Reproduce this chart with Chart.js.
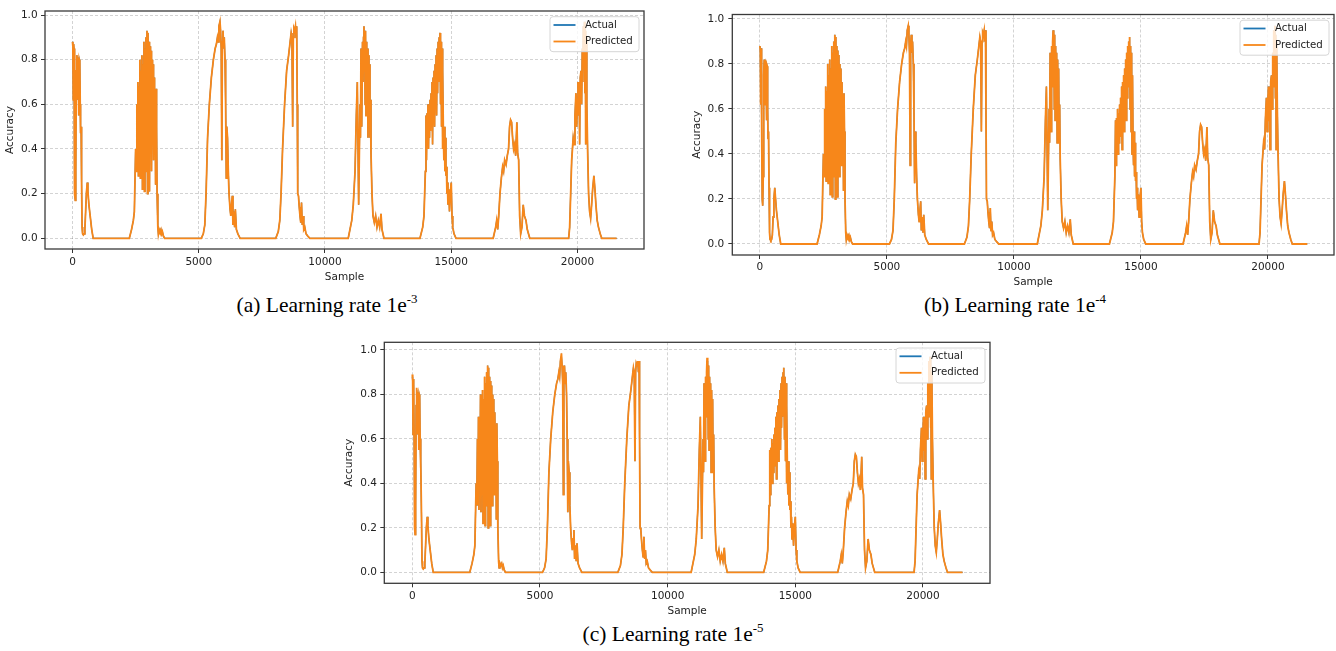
<!DOCTYPE html>
<html><head><meta charset="utf-8">
<script src="https://cdn.jsdelivr.net/npm/chart.js@4.4.0/dist/chart.umd.min.js"></script>
<style>
html,body{margin:0;padding:0;background:#fff;}
body{width:1336px;height:651px;position:relative;overflow:hidden;}
.panel{position:absolute;}
.panel canvas{display:block;}
.cap{position:absolute;font-family:"Liberation Serif","Times New Roman",serif;font-size:21.5px;color:#000;white-space:nowrap;transform:translate(-50%,-50%);line-height:1;}
.cap sup{font-size:0.6em;vertical-align:0.7em;line-height:0;}
</style></head><body>
<div class="panel" style="left:0;top:0;width:660px;height:290px"><canvas id="cA" width="660" height="290"></canvas></div>
<div class="panel" style="left:680px;top:0;width:656px;height:290px"><canvas id="cB" width="656" height="290"></canvas></div>
<div class="panel" style="left:330px;top:330px;width:680px;height:290px"><canvas id="cC" width="680" height="290"></canvas></div>
<div class="cap" style="left:327px;top:306px">(a) Learning rate 1e<sup>-3</sup></div>
<div class="cap" style="left:1015px;top:306px">(b) Learning rate 1e<sup>-4</sup></div>
<div class="cap" style="left:673px;top:635px">(c) Learning rate 1e<sup>-5</sup></div>
<script>
const seriesLabels = ['Actual', 'Predicted'];
const xLabel = 'Sample';
const yLabel = 'Accuracy';
const xTicks = [0, 5000, 10000, 15000, 20000];
const yTicks = [0, 0.2, 0.4, 0.6, 0.8, 1.0];

const samples = [
  0,15,30,45,60,75,90,110,130,150,170,190,205,220,240,255,270,290,305,320,340,360,380,400,430,460,490,520,550,585,610,650,700,760,820,
  2250,2340,2410,2450,2500,2525,2550,2570,2590,2610,2630,2650,2670,2690,2710,2730,2750,2770,2790,2810,2830,2850,2870,2890,2910,2930,2950,2970,2990,3010,3030,3050,3070,3090,3110,3130,3150,3170,3190,3210,3230,3250,3270,3290,3310,3330,3350,3380,3400,3430,3460,3500,3530,3560,3600,3650,
  5100,5180,5240,5290,5350,5420,5500,5580,5650,5700,5740,5770,5800,5840,5865,5890,5915,5935,5960,5985,6010,6040,6065,6090,6110,6140,6170,6200,6240,6270,6300,6330,6355,6390,6420,6450,6490,6550,6640,
  8050,8150,8210,8260,8320,8400,8480,8560,8620,8660,8690,8720,8745,8770,8800,8830,8855,8880,8900,8920,8950,8980,9010,9040,9070,9100,9130,9160,9200,9250,9320,9400,
  10920,10990,11060,11120,11190,11240,11280,11333,11386,11405,11426,11445,11465,11485,11505,11525,11544,11560,11575,11590,11605,11624,11643,11663,11683,11703,11722,11742,11762,11782,11802,11822,11861,11901,11954,12006,12059,12112,12165,12218,12257,12336,
  13760,13870,13920,13975,14000,14020,14040,14060,14080,14100,14120,14140,14160,14180,14200,14220,14240,14260,14280,14300,14320,14340,14360,14380,14400,14420,14440,14460,14480,14500,14520,14540,14555,14575,14595,14615,14635,14650,14670,14690,14710,14730,14750,14770,14790,14810,14830,14850,14870,14900,14930,14960,15000,15030,15060,15110,15190,
  16660,16760,16800,16840,16880,16930,16985,17035,17075,17115,17170,17220,17270,17310,17350,17390,17430,17470,17510,17550,17600,17630,17670,17710,17750,17800,17850,17900,17960,18010,18110,
  19650,19690,19770,19830,19870,19900,19940,19970,19995,20020,20045,20065,20085,20110,20140,20165,20190,20210,20230,20250,20275,20295,20310,20325,20345,20370,20400,20440,20480,20520,20560,20600,20650,20690,20730,20780,20830,20900,20960,21550
];

const actual = [
  .88,.86,.62,.87,.85,.55,.2,.17,.3,.75,.82,.8,.62,.81,.78,.55,.8,.79,.6,.47,.5,.25,.05,.02,.015,.02,.04,.12,.2,.25,.21,.15,.1,.04,0,
  0,.04,.08,.12,.4,.3,.6,.3,.7,.28,.68,.45,.8,.27,.75,.5,.82,.22,.78,.4,.88,.21,.85,.55,.9,.3,.93,.2,.92,.6,.88,.21,.86,.5,.84,.3,.8,.6,.78,.35,.72,.55,.66,.24,.67,.5,.2,.05,.02,.04,.03,.04,.02,.03,.01,0,
  0,.02,.06,.2,.45,.6,.72,.8,.85,.87,.9,.88,.95,.97,.93,.85,.35,.88,.93,.85,.9,.8,.6,.27,.5,.45,.3,.2,.13,.1,.15,.19,.06,.12,.05,.13,.04,.02,0,
  0,.03,.08,.2,.4,.6,.75,.82,.88,.92,.9,.5,.9,.94,.93,.95,.9,.95,.6,.2,.19,.14,.1,.07,.16,.06,.1,.04,.05,.02,.01,0,
  0,.04,.08,.15,.3,.55,.7,.15,.6,.45,.85,.6,.5,.88,.7,.9,.95,.75,.92,.6,.93,.55,.88,.7,.85,.45,.82,.6,.78,.45,.62,.38,.2,.1,.07,.1,.05,.08,.05,.11,.04,0,
  0,.05,.1,.3,.55,.35,.56,.42,.6,.4,.58,.45,.62,.48,.65,.5,.7,.42,.72,.55,.75,.5,.78,.6,.82,.55,.85,.65,.88,.7,.9,.75,.92,.6,.88,.5,.85,.4,.75,.45,.35,.5,.3,.45,.28,.32,.2,.25,.15,.22,.12,.2,.25,.1,.05,.02,0,
  0,.05,.08,.04,.1,.2,.27,.32,.3,.35,.33,.37,.4,.5,.53,.52,.45,.4,.42,.37,.52,.38,.35,.1,.02,.05,.15,.1,.08,.04,0,
  0,.05,.35,.45,.42,.55,.65,.5,.62,.7,.55,.7,.42,.72,.75,.6,.85,.7,.95,.8,.97,.65,.93,.42,.9,.6,.4,.2,.12,.09,.15,.22,.28,.22,.15,.08,.05,.02,0,0
];

const predictedA = [
  .88,.86,.62,.87,.85,.55,.2,.17,.3,.75,.82,.8,.62,.81,.78,.55,.8,.79,.6,.47,.5,.25,.05,.02,.015,.02,.04,.12,.2,.25,.21,.15,.1,.04,0,
  0,.04,.08,.12,.4,.3,.6,.3,.7,.28,.68,.45,.8,.27,.75,.5,.82,.22,.78,.4,.88,.21,.85,.55,.9,.3,.93,.2,.92,.6,.88,.21,.86,.5,.84,.3,.8,.6,.78,.35,.72,.55,.66,.24,.67,.5,.2,.05,.02,.04,.03,.04,.02,.03,.01,0,
  0,.02,.06,.2,.45,.6,.72,.8,.85,.87,.9,.88,.95,.97,.93,.85,.35,.88,.93,.85,.9,.8,.6,.27,.5,.45,.3,.2,.13,.1,.15,.19,.06,.12,.05,.13,.04,.02,0,
  0,.03,.08,.2,.4,.6,.75,.82,.88,.92,.9,.5,.9,.94,.93,.95,.9,.95,.6,.2,.19,.14,.1,.07,.16,.06,.1,.04,.05,.02,.01,0,
  0,.04,.08,.15,.3,.55,.7,.15,.6,.45,.85,.6,.5,.88,.7,.9,.95,.75,.92,.6,.93,.55,.88,.7,.85,.45,.82,.6,.78,.45,.62,.38,.2,.1,.07,.1,.05,.08,.05,.11,.04,0,
  0,.05,.1,.3,.55,.35,.56,.42,.6,.4,.58,.45,.62,.48,.65,.5,.7,.42,.72,.55,.75,.5,.78,.6,.82,.55,.85,.65,.88,.7,.9,.75,.92,.6,.88,.5,.85,.4,.75,.45,.35,.5,.3,.45,.28,.32,.2,.25,.15,.22,.12,.2,.25,.1,.05,.02,0,
  0,.05,.08,.04,.1,.2,.27,.32,.3,.35,.33,.37,.4,.5,.53,.52,.45,.4,.42,.37,.52,.38,.35,.1,.02,.05,.15,.1,.08,.04,0,
  0,.05,.35,.45,.42,.55,.65,.5,.62,.7,.55,.7,.42,.72,.75,.6,.85,.7,.95,.8,.97,.65,.93,.42,.9,.6,.4,.2,.12,.09,.15,.22,.28,.22,.15,.08,.05,.02,0,0
];

const predictedB = [
  .88,.86,.62,.87,.85,.55,.2,.17,.3,.75,.82,.8,.62,.81,.78,.55,.8,.79,.6,.47,.5,.25,.05,.02,.015,.02,.04,.12,.2,.25,.21,.15,.1,.04,0,
  0,.04,.08,.12,.4,.3,.6,.3,.7,.28,.68,.45,.8,.27,.75,.5,.82,.22,.78,.4,.88,.21,.85,.55,.9,.3,.93,.2,.92,.6,.88,.21,.86,.5,.84,.3,.8,.6,.78,.35,.72,.55,.66,.24,.67,.5,.2,.05,.02,.04,.03,.04,.02,.03,.01,0,
  0,.02,.06,.2,.45,.6,.72,.8,.85,.87,.9,.88,.95,.97,.93,.85,.35,.88,.93,.85,.9,.8,.6,.27,.5,.45,.3,.2,.13,.1,.15,.19,.06,.12,.05,.13,.04,.02,0,
  0,.03,.08,.2,.4,.6,.75,.82,.88,.92,.9,.5,.9,.94,.93,.95,.9,.95,.6,.2,.19,.14,.1,.07,.16,.06,.1,.04,.05,.02,.01,0,
  0,.04,.08,.15,.3,.55,.7,.15,.6,.45,.85,.6,.5,.88,.7,.9,.95,.75,.92,.6,.93,.55,.88,.7,.85,.45,.82,.6,.78,.45,.62,.38,.2,.1,.07,.1,.05,.08,.05,.11,.04,0,
  0,.05,.1,.3,.55,.35,.56,.42,.6,.4,.58,.45,.62,.48,.65,.5,.7,.42,.72,.55,.75,.5,.78,.6,.82,.55,.85,.65,.88,.7,.9,.75,.92,.6,.88,.5,.85,.4,.75,.45,.35,.5,.3,.45,.28,.32,.2,.25,.15,.22,.12,.2,.25,.1,.05,.02,0,
  0,.05,.08,.04,.1,.2,.27,.32,.3,.35,.33,.37,.4,.5,.53,.52,.45,.4,.42,.37,.52,.38,.35,.1,.02,.05,.15,.1,.08,.04,0,
  0,.05,.35,.45,.42,.55,.65,.5,.62,.7,.55,.7,.42,.72,.75,.6,.85,.7,.95,.8,.97,.65,.93,.42,.9,.6,.4,.2,.12,.09,.15,.22,.28,.22,.15,.08,.05,.02,0,0
];

const predictedC = [
  .89,.86,.62,.87,.85,.55,.2,.17,.3,.75,.83,.8,.62,.81,.78,.55,.8,.79,.6,.47,.5,.25,.05,.02,.015,.02,.04,.12,.2,.25,.21,.15,.1,.04,0,
  0,.04,.08,.12,.4,.3,.6,.3,.7,.28,.68,.45,.8,.27,.75,.5,.82,.22,.78,.4,.88,.21,.85,.55,.9,.3,.93,.2,.92,.6,.88,.21,.86,.5,.84,.3,.8,.6,.78,.35,.72,.55,.66,.24,.67,.5,.2,.05,.02,.04,.03,.04,.02,.03,.01,0,
  0,.02,.06,.2,.45,.6,.72,.8,.85,.87,.9,.88,.95,.985,.93,.85,.35,.88,.93,.85,.9,.8,.6,.27,.5,.45,.3,.2,.13,.1,.15,.19,.06,.12,.05,.13,.04,.02,0,
  0,.03,.08,.2,.4,.6,.75,.82,.88,.92,.9,.5,.9,.94,.93,.95,.9,.95,.6,.2,.19,.14,.1,.07,.16,.06,.1,.04,.05,.02,.01,0,
  0,.04,.08,.15,.3,.55,.7,.15,.6,.45,.85,.6,.5,.88,.7,.9,.965,.75,.92,.6,.93,.55,.88,.7,.85,.45,.82,.6,.78,.45,.62,.38,.2,.1,.07,.1,.05,.08,.05,.11,.04,0,
  0,.05,.1,.3,.55,.35,.56,.42,.6,.4,.58,.45,.62,.48,.65,.5,.7,.42,.72,.55,.75,.5,.78,.6,.82,.55,.85,.65,.88,.7,.9,.75,.92,.6,.88,.5,.85,.4,.75,.45,.35,.5,.3,.45,.28,.32,.2,.25,.15,.22,.12,.2,.25,.1,.05,.02,0,
  0,.05,.08,.04,.1,.2,.27,.32,.3,.35,.33,.37,.4,.5,.53,.52,.45,.4,.42,.37,.52,.38,.35,.1,.02,.05,.15,.1,.08,.04,0,
  0,.05,.35,.45,.42,.55,.65,.5,.62,.7,.55,.7,.42,.72,.75,.6,.85,.7,.95,.8,.97,.65,.93,.42,.9,.6,.4,.2,.12,.09,.15,.22,.28,.22,.15,.08,.05,.02,0,0
];

const colors = ['#1f77b4', '#f7871a'];
const gridColor = 'rgba(0,0,0,0.22)';
const textColor = '#222';

Chart.defaults.font.family = '"DejaVu Sans", sans-serif';
Chart.defaults.font.size = 10.5;

const framePlugin = {
  id: 'frame',
  afterDatasetsDraw(chart) {
    const {ctx, chartArea: a} = chart;
    ctx.save();
    ctx.strokeStyle = '#3a3a3a';
    ctx.lineWidth = 1.3;
    ctx.strokeRect(a.left, a.top, a.right - a.left, a.bottom - a.top);
    ctx.restore();
  }
};

const legendPlugin = {
  id: 'mplLegend',
  afterDraw(chart) {
    const {ctx, chartArea: a} = chart;
    const w = 89, h = 35;
    const x = a.right - 5 - w, y = a.top + 5.7;
    ctx.save();
    ctx.beginPath();
    if (ctx.roundRect) ctx.roundRect(x, y, w, h, 3); else ctx.rect(x, y, w, h);
    ctx.fillStyle = 'rgba(255,255,255,0.8)';
    ctx.fill();
    ctx.strokeStyle = '#d6d6d6';
    ctx.lineWidth = 1;
    ctx.stroke();
    ctx.font = '10.2px "DejaVu Sans"';
    ctx.textBaseline = 'middle';
    ctx.textAlign = 'left';
    chart.data.datasets.forEach((ds, i) => {
      const yy = y + 8.3 + i * 16.5;
      ctx.strokeStyle = ds.borderColor;
      ctx.lineWidth = 1.8;
      ctx.beginPath();
      ctx.moveTo(x + 3.5, yy);
      ctx.lineTo(x + 25.5, yy);
      ctx.stroke();
      ctx.fillStyle = textColor;
      ctx.fillText(ds.label, x + 35, yy);
    });
    ctx.restore();
  }
};

function makeChart(id, cfg, predicted) {
  const n = Math.min(samples.length, actual.length, predicted.length);
  const actData = [], predData = [];
  for (let i = 0; i < n; i++) {
    actData.push({x: samples[i], y: actual[i]});
    predData.push({x: samples[i], y: predicted[i]});
  }
  return new Chart(document.getElementById(id), {
    type: 'line',
    data: {
      datasets: [
        {label: seriesLabels[0], data: actData, borderColor: colors[0], backgroundColor: colors[0], borderWidth: 1.2, pointRadius: 0, tension: 0, order: 1},
        {label: seriesLabels[1], data: predData, borderColor: colors[1], backgroundColor: colors[1], borderWidth: 1.8, pointRadius: 0, tension: 0, order: 0}
      ]
    },
    options: {
      responsive: false,
      animation: false,
      events: [],
      layout: {padding: cfg.pad},
      plugins: {legend: {display: false}, tooltip: {enabled: false}},
      scales: {
        x: {
          type: 'linear', min: cfg.xMin, max: cfg.xMax,
          afterBuildTicks: s => { s.ticks = xTicks.map(v => ({value: v})); },
          afterFit: s => { s.height = cfg.xH; },
          ticks: {autoSkip: false, maxRotation: 0, minRotation: 0, padding: cfg.xPad, color: textColor, font: {size: 10.5}, callback: v => String(v)},
          grid: {color: gridColor, lineWidth: 0.8, drawTicks: true, tickLength: 4, tickColor: '#333', tickWidth: 1, borderDash: [3, 2]},
          border: {display: false, dash: [3, 2]},
          title: {display: true, text: xLabel, color: textColor, font: {size: 10.5}, padding: {top: 0, bottom: cfg.xTitlePad}}
        },
        y: {
          type: 'linear', min: cfg.yMin, max: cfg.yMax,
          afterBuildTicks: s => { s.ticks = yTicks.map(v => ({value: v})); },
          afterFit: s => { s.width = cfg.yW; },
          ticks: {padding: cfg.yPad, color: textColor, font: {size: 10.5}, callback: v => Number(v).toFixed(1)},
          grid: {color: gridColor, lineWidth: 0.8, drawTicks: true, tickLength: 4, tickColor: '#333', tickWidth: 1, borderDash: [3, 2]},
          border: {display: false, dash: [3, 2]},
          title: {display: true, text: yLabel, color: textColor, font: {size: 10.5}, padding: {top: cfg.yTitlePad, bottom: 0}}
        }
      }
    },
    plugins: [framePlugin, legendPlugin]
  });
}

makeChart('cA', {pad: {left: 0, top: 11, right: 16, bottom: 0}, yW: 45, xH: 41, xMin: -1089, xMax: 22634, yMin: -0.048, yMax: 1.018, xPad: 2.7, yPad: 3.4, xTitlePad: 6.7, yTitlePad: 4.2}, predictedA);
makeChart('cB', {pad: {left: 0, top: 14.5, right: 2, bottom: 0}, yW: 52.3, xH: 35, xMin: -1087, xMax: 22602, yMin: -0.049, yMax: 1.02, xPad: 1.8, yPad: 4, xTitlePad: 1, yTitlePad: 11.4}, predictedB);
makeChart('cC', {pad: {left: 0, top: 12.3, right: 20, bottom: 0}, yW: 54.3, xH: 36.7, xMin: -1097, xMax: 22624, yMin: -0.0495, yMax: 1.0346, xPad: 2.4, yPad: 3.4, xTitlePad: 2, yTitlePad: 12.7}, predictedC);
</script>
</body></html>
